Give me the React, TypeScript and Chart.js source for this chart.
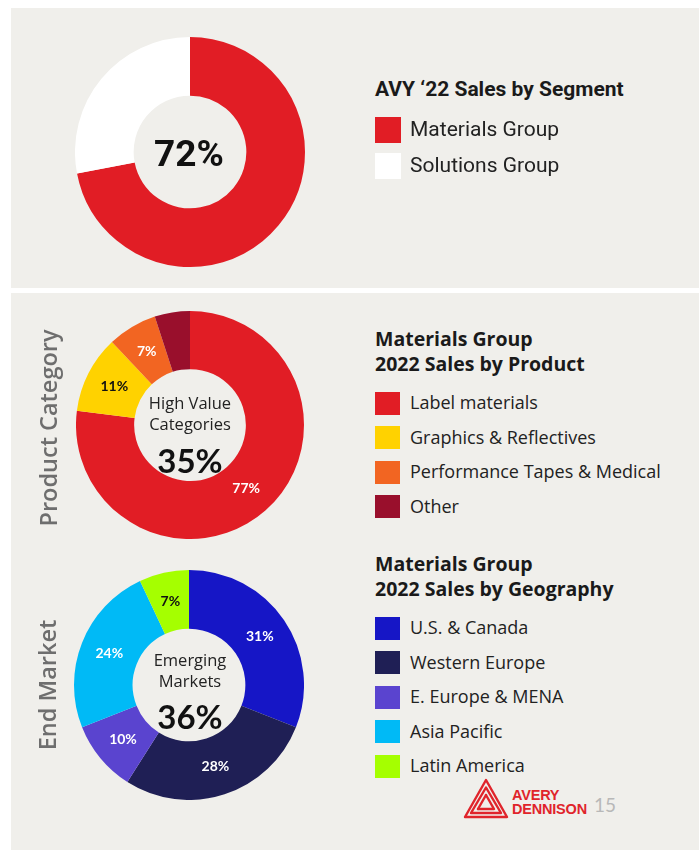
import React, { useEffect, useRef } from "react";
import { Chart, registerables } from "chart.js";

Chart.register(...registerables);

// ---------- DATA ----------
const segmentLabels = ["Materials Group", "Solutions Group"];
const segmentValues = [72, 28];
const segmentColors = ["#e11d25", "#ffffff"];
const segmentSliceText = ["", ""];
const segmentCenter = "72%";
const segmentTitle = ["AVY \u201822 Sales by Segment"];

const productLabels = ["Label materials", "Graphics & Reflectives", "Performance Tapes & Medical", "Other"];
const productValues = [77, 11, 7, 5];
const productColors = ["#e11d25", "#ffd200", "#f26522", "#990f2c"];
const productSliceText = ["77%", "11%", "7%", ""];
const productSliceTextColors = ["#ffffff", "#111111", "#ffffff", "#ffffff"];
const productCenterLines = ["High Value", "Categories"];
const productCenterValue = "35%";
const productTitle = ["Materials Group", "2022 Sales by Product"];

const geoLabels = ["U.S. & Canada", "Western Europe", "E. Europe & MENA", "Asia Pacific", "Latin America"];
const geoValues = [31, 28, 10, 24, 7];
const geoColors = ["#1616c6", "#1f1f55", "#5a44cf", "#00baf6", "#a5ff00"];
const geoSliceText = ["31%", "28%", "10%", "24%", "7%"];
const geoSliceTextColors = ["#ffffff", "#ffffff", "#ffffff", "#ffffff", "#111111"];
const geoCenterLines = ["Emerging", "Markets"];
const geoCenterValue = "36%";
const geoTitle = ["Materials Group", "2022 Sales by Geography"];

const sideLabels = ["Product Category", "End Market"];
const pageNumber = "15";

const FONT = "'Open Sans', Lato, 'Noto Sans', sans-serif";
const LABEL_FONT = "Lato, 'Noto Sans', sans-serif";
const TOP_FONT = "Roboto, Lato, sans-serif";
const PANEL = "#f0efeb";

const sliceLabelPlugin = {
  id: "sliceLabels",
  afterDatasetsDraw(chart: any, _args: any, opts: any) {
    const texts: string[] = opts.texts || [];
    const colors: string[] = opts.colors || [];
    const ctx = chart.ctx;
    const meta = chart.getDatasetMeta(0);
    ctx.save();
    ctx.font = `bold ${opts.size || 14}px ${LABEL_FONT}`;
    ctx.textAlign = "center";
    ctx.textBaseline = "middle";
    meta.data.forEach((arc: any, i: number) => {
      const t = texts[i];
      if (!t) return;
      const p = arc.tooltipPosition();
      ctx.fillStyle = colors[i] || "#fff";
      ctx.fillText(t, p.x, p.y);
    });
    ctx.restore();
  },
};

function Donut(props: {
  left: number; top: number; size: number;
  labels: string[]; values: number[]; colors: string[];
  texts: string[]; textColors?: string[];
}) {
  const ref = useRef<HTMLCanvasElement>(null);
  useEffect(() => {
    if (!ref.current) return;
    const chart = new Chart(ref.current, {
      type: "doughnut",
      data: {
        labels: props.labels,
        datasets: [{
          data: props.values,
          backgroundColor: props.colors,
          borderWidth: 0,
          hoverOffset: 0,
        }],
      },
      options: {
        responsive: false,
        animation: false,
        cutout: "49%",
        layout: { padding: 0 },
        plugins: {
          legend: { display: false },
          tooltip: { enabled: false },
          sliceLabels: { texts: props.texts, colors: props.textColors || [], size: 14 },
        } as any,
      },
      plugins: [sliceLabelPlugin],
    });
    return () => chart.destroy();
  }, []);
  return (
    <canvas
      ref={ref}
      width={props.size}
      height={props.size}
      style={{ position: "absolute", left: props.left, top: props.top, width: props.size, height: props.size }}
    />
  );
}

function Text(props: { x: number; y: number; size: number; bold?: boolean; weight?: number; color?: string; children: any; center?: boolean; family?: string }) {
  const lh = props.size * 1.3;
  return (
    <div
      style={{
        position: "absolute",
        left: props.center ? props.x - 150 : props.x,
        width: props.center ? 300 : undefined,
        textAlign: props.center ? "center" : "left",
        top: props.y - lh / 2,
        height: lh,
        lineHeight: `${lh}px`,
        fontSize: props.size,
        fontWeight: props.weight || (props.bold ? 700 : 400),
        color: props.color || "#1a1a1a",
        fontFamily: props.family || FONT,
        whiteSpace: "nowrap",
      }}
    >
      {props.children}
    </div>
  );
}

function Legend(props: {
  titles: string[]; titleY: number; titleGap: number; titleSize: number;
  labels: string[]; colors: string[]; firstY: number; gap: number; textSize: number;
  sw: number; sh: number; family?: string;
}) {
  return (
    <>
      {props.titles.map((t, i) => (
        <Text key={"t" + i} x={375} y={props.titleY + i * props.titleGap} size={props.titleSize} bold family={props.family}>
          {t}
        </Text>
      ))}
      {props.labels.map((l, i) => {
        const cy = props.firstY + i * props.gap;
        return (
          <React.Fragment key={"l" + i}>
            <div
              style={{
                position: "absolute",
                left: 375,
                top: cy - props.sh / 2,
                width: props.sw,
                height: props.sh,
                background: props.colors[i],
              }}
            />
            <Text x={410} y={cy} size={props.textSize} color="#222" family={props.family}>
              {l}
            </Text>
          </React.Fragment>
        );
      })}
    </>
  );
}

function Logo() {
  return (
    <>
      <svg
        width={46}
        height={42}
        viewBox="0 0 46 42"
        style={{ position: "absolute", left: 463, top: 778 }}
      >
        <g fill="none" stroke="#e0242b" strokeWidth={2.4} strokeLinejoin="round" strokeLinecap="round">
          <path d="M23 2 L44 39 L2 39 Z" />
          <path d="M23 9.5 L38 35 L8 35 Z" />
          <path d="M23 17 L31 31 L15 31" />
          <path d="M15 31 L23 17" />
        </g>
      </svg>
      <div
        style={{
          position: "absolute",
          left: 512,
          top: 789,
          fontFamily: "'Liberation Sans', Arial, sans-serif",
          fontWeight: 700,
          fontSize: 14.5,
          lineHeight: "13.5px",
          color: "#e0242b",
          letterSpacing: -0.2,
        }}
      >
        AVERY
        <br />
        DENNISON
      </div>
      <Text x={594} y={805} size={19} color="#b8b8b8" family={LABEL_FONT}>
        {pageNumber}
      </Text>
    </>
  );
}

function SideLabel(props: { x: number; y: number; children: any }) {
  return (
    <div
      style={{
        position: "absolute",
        left: props.x - 150,
        top: props.y - 16,
        width: 300,
        height: 32,
        lineHeight: "32px",
        textAlign: "center",
        transform: "rotate(-90deg)",
        fontSize: 23.5,
        fontWeight: 600,
        color: "#6e6e6e",
        fontFamily: FONT,
        whiteSpace: "nowrap",
      }}
    >
      {props.children}
    </div>
  );
}

export default function App() {
  return (
    <div
      style={{
        position: "absolute",
        left: 0,
        top: 0,
        width: 699,
        height: 855,
        background: "#ffffff",
        overflow: "hidden",
        fontFamily: FONT,
      }}
    >
      <div style={{ position: "absolute", left: 11, top: 8, width: 688, height: 280, background: PANEL }} />
      <div style={{ position: "absolute", left: 11, top: 293, width: 688, height: 557, background: PANEL }} />

      {/* Top segment donut */}
      <Donut left={75} top={37} size={230} labels={segmentLabels} values={segmentValues} colors={segmentColors} texts={segmentSliceText} />
      <Text x={189} y={154} size={37} bold center color="#111" family={TOP_FONT}>
        {segmentCenter}
      </Text>
      <Legend
        titles={segmentTitle}
        titleY={90}
        titleGap={0}
        titleSize={21}
        labels={segmentLabels}
        colors={segmentColors}
        firstY={130}
        gap={36}
        textSize={21}
        sw={26}
        sh={26}
        family={TOP_FONT}
      />

      {/* Product donut */}
      <Donut
        left={76}
        top={311}
        size={228}
        labels={productLabels}
        values={productValues}
        colors={productColors}
        texts={productSliceText}
        textColors={productSliceTextColors}
      />
      <Text x={190} y={403} size={16.5} center color="#222">{productCenterLines[0]}</Text>
      <Text x={190} y={424} size={16.5} center color="#222">{productCenterLines[1]}</Text>
      <Text x={190} y={460} size={33} bold center color="#111" family={LABEL_FONT}>{productCenterValue}</Text>
      <Legend
        titles={productTitle}
        titleY={339}
        titleGap={25}
        titleSize={19.5}
        labels={productLabels}
        colors={productColors}
        firstY={403}
        gap={34.5}
        textSize={18}
        sw={25}
        sh={23}
      />

      {/* Geography donut */}
      <Donut
        left={74}
        top={570}
        size={230}
        labels={geoLabels}
        values={geoValues}
        colors={geoColors}
        texts={geoSliceText}
        textColors={geoSliceTextColors}
      />
      <Text x={190} y={660} size={16.5} center color="#222">{geoCenterLines[0]}</Text>
      <Text x={190} y={681} size={16.5} center color="#222">{geoCenterLines[1]}</Text>
      <Text x={190} y={716} size={33} bold center color="#111" family={LABEL_FONT}>{geoCenterValue}</Text>
      <Legend
        titles={geoTitle}
        titleY={564}
        titleGap={25}
        titleSize={19.5}
        labels={geoLabels}
        colors={geoColors}
        firstY={628}
        gap={34.5}
        textSize={18}
        sw={25}
        sh={23}
      />

      <SideLabel x={48} y={428}>{sideLabels[0]}</SideLabel>
      <SideLabel x={47} y={685}>{sideLabels[1]}</SideLabel>

      <Logo />
    </div>
  );
}
